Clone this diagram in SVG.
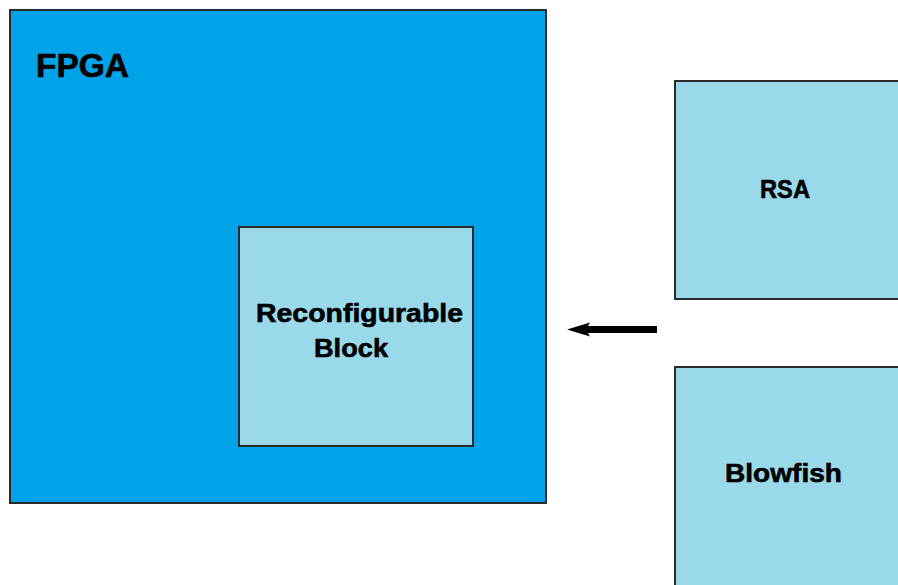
<svg xmlns="http://www.w3.org/2000/svg" width="898" height="585" viewBox="0 0 898 585">
  <style>
    .box { stroke: #2a2a2a; stroke-width: 2; }
    .outer { fill: #00a2e8; }
    .inner { fill: #99d9ea; }
    .label { font-family: "Liberation Sans", Arial, sans-serif; font-weight: bold; fill: #000; stroke: #000; stroke-width: 0.6; }
  </style>
  <defs>
    <marker id="head" markerUnits="userSpaceOnUse" markerWidth="24" markerHeight="16" refX="4" refY="7" orient="auto">
      <path d="M0,0 L23,7 L0,14 L4,7 z" fill="#000"/>
    </marker>
  </defs>
  <rect width="898" height="585" fill="#fff"/>

  <g id="fpga">
    <rect class="box outer" x="10" y="10" width="536" height="493"/>
    <text class="label" x="36" y="77" font-size="33" textLength="93" lengthAdjust="spacingAndGlyphs">FPGA</text>
  </g>

  <g id="reconfigurable-block">
    <rect class="box inner" x="239" y="227" width="234" height="219"/>
    <text class="label" x="256" y="322" font-size="26" textLength="207" lengthAdjust="spacingAndGlyphs">Reconfigurable</text>
    <text class="label" x="314" y="357" font-size="26" textLength="74" lengthAdjust="spacingAndGlyphs">Block</text>
  </g>

  <g id="rsa">
    <rect class="box inner" x="675" y="81" width="240" height="218"/>
    <text class="label" x="760" y="198" font-size="26" textLength="50" lengthAdjust="spacingAndGlyphs">RSA</text>
  </g>

  <g id="blowfish">
    <rect class="box inner" x="675" y="367" width="240" height="240"/>
    <text class="label" x="725" y="482" font-size="26" textLength="117" lengthAdjust="spacingAndGlyphs">Blowfish</text>
  </g>

  <g id="connectors">
    <line x1="657" y1="329.5" x2="586" y2="329.5" stroke="#000" stroke-width="7" marker-end="url(#head)"/>
  </g>
</svg>
